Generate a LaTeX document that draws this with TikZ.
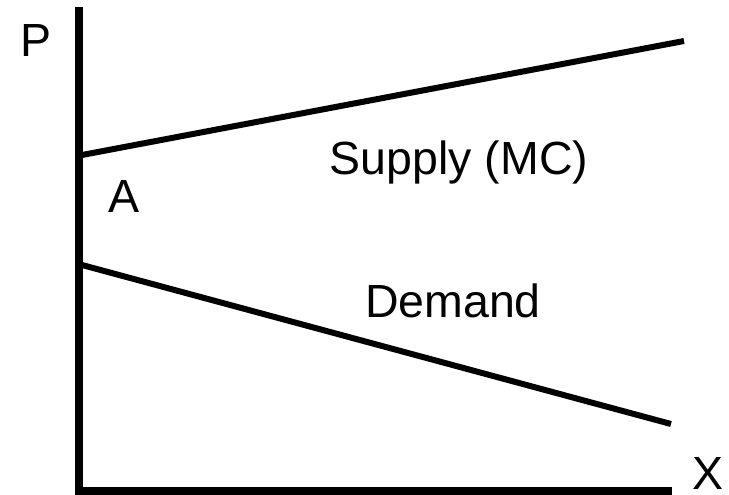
\documentclass[tikz,border=0pt]{standalone}
\usepackage{fontspec}
\setmainfont{Liberation Sans}

\begin{document}
\begin{tikzpicture}[x=1pt, y=-1pt,
    curve/.style={line width=6pt},
    axis/.style={line width=7.5pt},
    lbl/.style={inner sep=0pt, anchor=base, font=\fontsize{46.5}{55}\selectfont}]
    \useasboundingbox (0,0) rectangle (729,495);
    \coordinate (ytop) at (79,7);
    \coordinate (O) at (79,491);
    \coordinate (xend) at (672,491);
    \coordinate (S0) at (82,155);
    \coordinate (S1) at (684,41);
    \coordinate (D0) at (82,265);
    \coordinate (D1) at (671,424);
    \draw[axis] (ytop) -- (O |- 0,495);
    \draw[axis] (75,491) -- (xend);
    \draw[curve] (S0) -- (S1);
    \draw[curve] (D0) -- (D1);
    \node[lbl, anchor=base west] (P) at (20,57) {P};
    \node[lbl, anchor=base west] (A) at (108,212) {A};
    \node[lbl, anchor=base west] (X) at (692,489) {X};
    \node[lbl] (supply) at (459,174) {Supply (MC)};
    \node[lbl] (demand) at (453,317) {Demand};
\end{tikzpicture}
\end{document}
